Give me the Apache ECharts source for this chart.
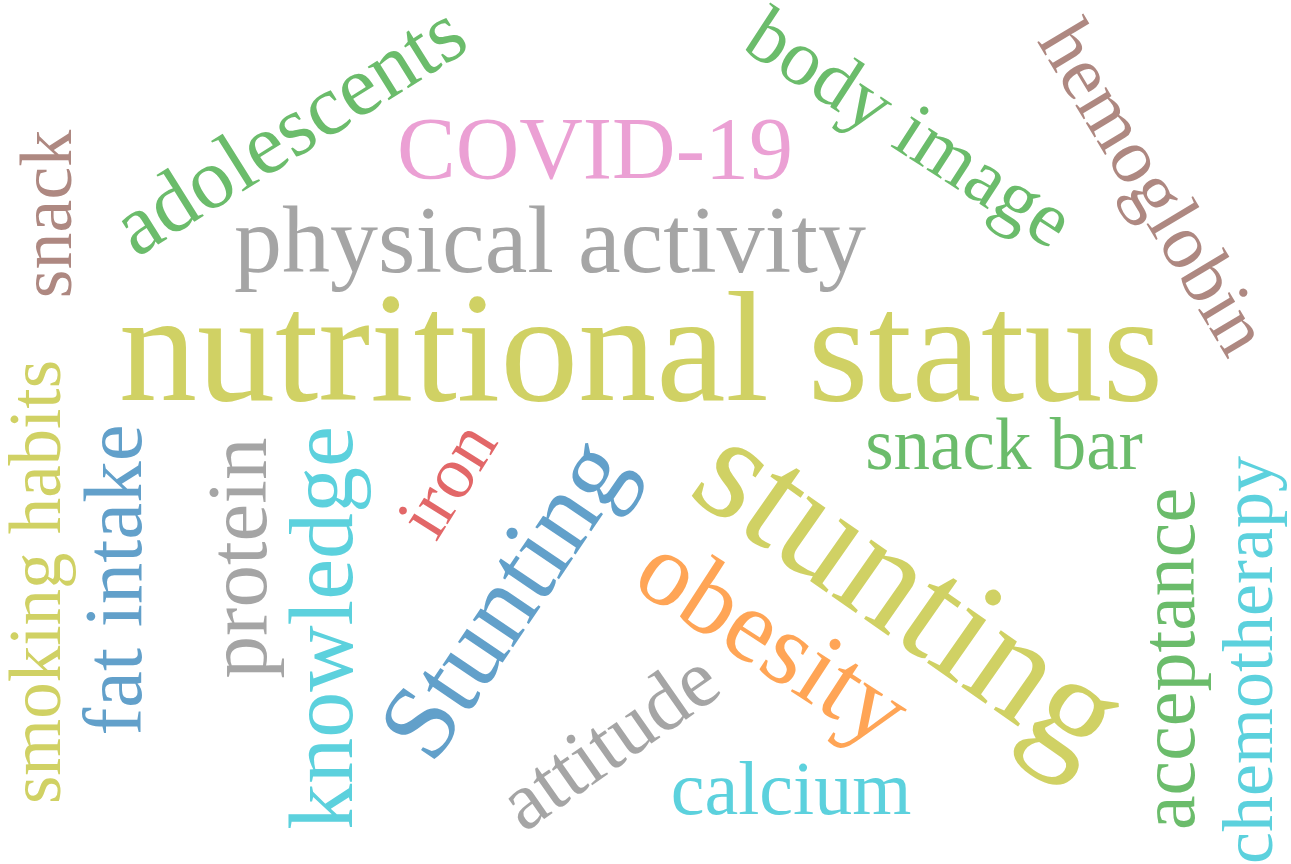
<!DOCTYPE html>
<html>
<head>
<meta charset="utf-8">
<style>
  html, body { margin: 0; padding: 0; background: #fff; }
  #chart { width: 1291px; height: 864px; }
</style>
<script src="https://cdn.jsdelivr.net/npm/echarts@6/dist/echarts.min.js"></script>
</head>
<body>
<div id="chart"></div>
<script>
// 词云数据
const words = [
    'nutritional status', 'physical activity', 'COVID-19', 'adolescents', 'snack',
    'body image', 'hemoglobin', 'smoking habits', 'fat intake', 'protein',
    'knowledge', 'iron', 'Stunting', 'stunting', 'obesity',
    'attitude', 'calcium', 'snack bar', 'acceptance', 'chemotherapy'
];
// 词频权重 (= 字号)
const weights = [156, 96, 88, 86, 74, 79, 78, 73, 83, 85, 92, 74, 106, 150, 104, 82, 76, 73, 78, 72];
// 布局位置 (画布坐标系, y 向下)
const posX = [641, 550, 595, 292, 52, 907, 1150, 41, 119, 244, 328, 451, 510, 906, 770, 612, 791, 1004, 1174, 1253];
const posY = [359, 247, 155, 134, 214, 132, 190, 582, 580, 558, 628, 482, 602, 600, 645, 745, 794, 450, 659, 660];
// 旋转角度 (度, 逆时针为正)
const angles = [0, 0, 0, 32, 90, -33, -59, 90, 90, 90, 90, 58, 56, -35, -33, 35, 0, 0, 90, 90];
// 颜色索引
const colorIdx = [8, 7, 6, 2, 5, 2, 5, 8, 0, 7, 9, 3, 0, 8, 1, 7, 9, 2, 2, 9];

const palette = ['#1f77b4', '#ff7f0e', '#2ca02c', '#d62728', '#9467bd',
    '#8c564b', '#e377c2', '#7f7f7f', '#bcbd22', '#17becf'];

const W = 1291;
const H = 864;

const chart = echarts.init(document.getElementById('chart'));

const seriesData = words.map((w, i) => [posX[i], posY[i], weights[i], angles[i], colorIdx[i], w]);

function renderItem(params, api) {
    const pt = api.coord([api.value(0), api.value(1)]);
    const i = params.dataIndex;
    return {
        type: 'text',
        x: pt[0],
        y: pt[1],
        rotation: angles[i] * Math.PI / 180,
        style: {
            text: words[i],
            fontSize: weights[i],
            fontFamily: '"Liberation Serif", "Times New Roman", serif',
            fill: palette[colorIdx[i]],
            opacity: 0.7,
            align: 'center',
            verticalAlign: 'middle'
        }
    };
}

chart.setOption({
    backgroundColor: '#fff',
    animation: false,
    grid: {left: 0, right: 0, top: 0, bottom: 0},
    xAxis: {type: 'value', min: 0, max: W, show: false},
    yAxis: {type: 'value', min: 0, max: H, inverse: true, show: false},
    series: [{
        type: 'custom',
        renderItem: renderItem,
        data: seriesData,
        encode: {x: 0, y: 1}
    }]
});
</script>
</body>
</html>
